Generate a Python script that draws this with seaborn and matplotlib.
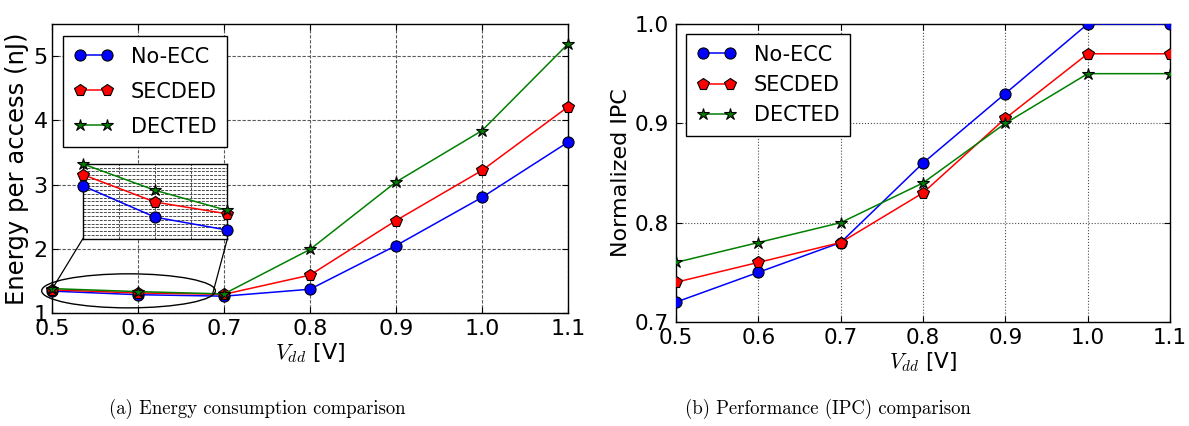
import numpy as np
import pandas as pd
import matplotlib
matplotlib.use("Agg")
import matplotlib.pyplot as plt
from matplotlib.patches import Ellipse
import seaborn as sns

# ---------------- data ----------------
vdd = [0.5, 0.6, 0.7, 0.8, 0.9, 1.0, 1.1]
schemes = ["No-ECC", "SECDED", "DECTED"]

energy_noecc = [1.341, 1.285, 1.262, 1.37, 2.05, 2.80, 3.66]
energy_secded = [1.361, 1.312, 1.291, 1.59, 2.44, 3.22, 4.21]
energy_dected = [1.380, 1.333, 1.297, 1.99, 3.04, 3.84, 5.19]

ipc_noecc = [0.72, 0.75, 0.78, 0.86, 0.93, 1.00, 1.00]
ipc_secded = [0.74, 0.76, 0.78, 0.83, 0.905, 0.97, 0.97]
ipc_dected = [0.76, 0.78, 0.80, 0.84, 0.90, 0.95, 0.95]

x_ticks = [0.5, 0.6, 0.7, 0.8, 0.9, 1.0, 1.1]
x_ticklabels = ["0.5", "0.6", "0.7", "0.8", "0.9", "1.0", "1.1"]
energy_ticks = [1, 2, 3, 4, 5]
ipc_ticks = [0.7, 0.8, 0.9, 1.0]
ipc_ticklabels = ["0.7", "0.8", "0.9", "1.0"]
captions = ["(a) Energy consumption comparison", "(b) Performance (IPC) comparison"]

colors = {"No-ECC": "#0000ff", "SECDED": "#ff0000", "DECTED": "#008000"}
markers = {"No-ECC": "o", "SECDED": "p", "DECTED": "*"}
msizes = {"No-ECC": 8, "SECDED": 8.5, "DECTED": 9}

energy = {"No-ECC": energy_noecc, "SECDED": energy_secded, "DECTED": energy_dected}
ipc = {"No-ECC": ipc_noecc, "SECDED": ipc_secded, "DECTED": ipc_dected}

df_e = pd.concat([pd.DataFrame({"Vdd": vdd, "val": energy[s], "Scheme": s}) for s in schemes])
df_i = pd.concat([pd.DataFrame({"Vdd": vdd, "val": ipc[s], "Scheme": s}) for s in schemes])

plt.rcParams.update({
    "font.family": ["DejaVu Sans"],
    "mathtext.fontset": "cm",
    "xtick.direction": "in",
    "ytick.direction": "in",
    "xtick.top": True,
    "ytick.right": True,
    "xtick.major.size": 4,
    "ytick.major.size": 4,
    "axes.edgecolor": "black",
    "axes.linewidth": 1.0,
})

fig = plt.figure(figsize=(11.89, 4.26), dpi=100)
W, H = 1189, 426


def px_axes(l, r, t, b):
    return fig.add_axes([l / W, (H - b) / H, (r - l) / W, (b - t) / H])


ax1 = px_axes(52, 568, 24, 313)
ax2 = px_axes(676, 1170, 24, 322)


def draw(ax, df, clip, zorder=3):
    for s in schemes:
        sub = df[df["Scheme"] == s]
        sns.lineplot(data=sub, x="Vdd", y="val", ax=ax, color=colors[s],
                     marker=markers[s], markersize=msizes[s],
                     markeredgecolor="black", markeredgewidth=0.8,
                     linewidth=1.1, label=s, clip_on=clip, zorder=zorder,
                     legend=False)


leg_kw = dict(loc="upper left", borderaxespad=0, numpoints=2, fancybox=False,
              edgecolor="black", framealpha=1, handlelength=1.9, handletextpad=0.85,
              borderpad=0.5)

# ---------------- left panel ----------------
draw(ax1, df_e, clip=False)
ax1.set_xlim(0.5, 1.1)
ax1.set_ylim(1, 5.5)
ax1.set_xticks(x_ticks)
ax1.set_xticklabels(x_ticklabels)
ax1.set_yticks(energy_ticks)
ax1.tick_params(axis="x", labelsize=16, pad=4)
ax1.tick_params(axis="y", labelsize=16, pad=3)
ax1.grid(True, color="0.35", linestyle=(0, (3, 1.5)), linewidth=0.8)
ax1.set_axisbelow(True)
ax1.set_xlabel("$V_{dd}$ [V]", fontsize=16, labelpad=2)
ax1.set_ylabel("Energy per access (nJ)", fontsize=17.5, labelpad=3)
leg1 = ax1.legend(bbox_to_anchor=(0.021, 0.958), fontsize=15, labelspacing=0.72, **leg_kw)
leg1.get_frame().set_linewidth(1.0)

# ellipse + zoom inset
ell = Ellipse((0.589, 1.345), 0.202, 0.53, fill=False, edgecolor="black", lw=1.0, clip_on=False, zorder=4)
ax1.add_patch(ell)
ins_x0, ins_y0, ins_w, ins_h = 0.536, 2.16, 0.168, 1.16
axin = ax1.inset_axes([ins_x0, ins_y0, ins_w, ins_h], transform=ax1.transData)
draw(axin, df_e[df_e["Vdd"] <= 0.7], clip=False)
axin.set_xlim(0.5, 0.7)
axin.set_ylim(1.247, 1.38)
axin.set_xticks([0.55, 0.6, 0.65])
axin.set_yticks(np.linspace(1.247, 1.38, 21)[1:-1])
axin.tick_params(length=0, labelbottom=False, labelleft=False, labeltop=False, labelright=False)
axin.grid(True, color="0.3", linestyle=(0, (3, 1.2)), linewidth=0.7)
axin.set_axisbelow(True)
axin.set_xlabel("")
axin.set_ylabel("")
ax1.plot([0.5, ins_x0], [1.37, ins_y0], color="black", lw=0.9, zorder=4)
ax1.plot([0.687, ins_x0 + ins_w], [1.31, ins_y0], color="black", lw=0.9, zorder=4)

# ---------------- right panel ----------------
draw(ax2, df_i, clip=True)
ax2.set_xlim(0.5, 1.1)
ax2.set_ylim(0.7, 1.0)
ax2.set_xticks(x_ticks)
ax2.set_xticklabels(x_ticklabels)
ax2.set_yticks(ipc_ticks)
ax2.set_yticklabels(ipc_ticklabels)
ax2.tick_params(axis="x", labelsize=15.5, pad=4)
ax2.tick_params(axis="y", labelsize=15.5, pad=5)
ax2.grid(True, color="0.3", linestyle=":", linewidth=0.8)
ax2.set_axisbelow(True)
ax2.set_xlabel("$V_{dd}$ [V]", fontsize=15.5, labelpad=2)
ax2.set_ylabel("Normalized IPC", fontsize=16, labelpad=3)
leg2 = ax2.legend(bbox_to_anchor=(0.02, 0.966), fontsize=15, labelspacing=0.5, **leg_kw)
leg2.get_frame().set_linewidth(1.0)

# captions
fig.text(257 / W, 1 - 409 / H, captions[0], family="cmr10", fontsize=13.5, ha="center", va="center")
fig.text(828 / W, 1 - 409 / H, captions[1], family="cmr10", fontsize=13.5, ha="center", va="center")

fig.savefig("out.png", dpi=100, facecolor="white")
